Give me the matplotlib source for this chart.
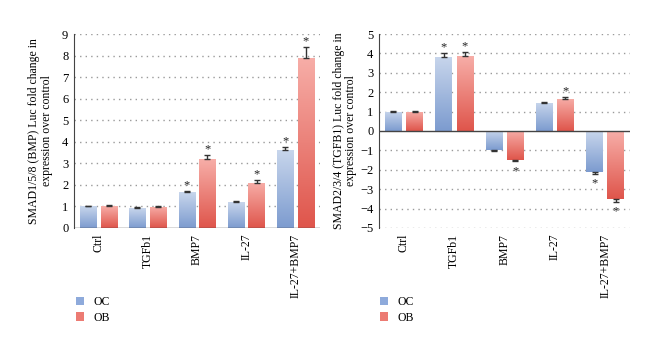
import numpy as np
import matplotlib.pyplot as plt
from matplotlib.patches import Patch
from matplotlib.colors import LinearSegmentedColormap

plt.rcParams['font.family'] = ['Liberation Serif', 'DejaVu Serif']

groups = ['Ctrl', 'TGFb1', 'BMP7', 'IL-27', 'IL-27+BMP7']

# SMAD1/5/8 (BMP) reporter
bmp_oc = [1.0, 0.92, 1.65, 1.2, 3.6]
bmp_ob = [1.0, 0.98, 3.2, 2.1, 7.9]
bmp_oc_err = [0.04, 0.04, 0.07, 0.05, 0.18]
bmp_ob_err = [0.05, 0.05, 0.2, 0.12, 0.5]
bmp_oc_sig = [False, False, True, False, True]
bmp_ob_sig = [False, False, True, True, True]

# SMAD2/3/4 (TGFB1) reporter
tgf_oc = [1.0, 3.82, -1.0, 1.45, -2.1]
tgf_ob = [1.0, 3.85, -1.5, 1.65, -3.5]
tgf_oc_err = [0.04, 0.2, 0.04, 0.05, 0.1]
tgf_ob_err = [0.04, 0.22, 0.06, 0.1, 0.15]
tgf_oc_sig = [False, True, False, False, True]
tgf_ob_sig = [False, True, True, True, True]

oc_cmap = LinearSegmentedColormap.from_list('oc', ['#7c9bcf', '#c8d6ec'])
ob_cmap = LinearSegmentedColormap.from_list('ob', ['#df554b', '#f7aea8'])
grad = np.linspace(0, 1, 256).reshape(-1, 1)


def gradient_bars(ax, xs, vals, errs, sig, cmap, width):
    bars = ax.bar(xs, vals, width, color='none', edgecolor='none', zorder=2)
    for b, v, e, s in zip(bars, vals, errs, sig):
        x0 = b.get_x()
        x1 = x0 + b.get_width()
        top, bot = max(v, 0), min(v, 0)
        im = ax.imshow(grad, cmap=cmap, origin='lower', aspect='auto',
                       extent=(x0, x1, bot, top), zorder=2)
        im.set_clip_path(b)
        xc = x0 + b.get_width() / 2
        up = v >= 0
        yerr = [[0], [e]] if up else [[e], [0]]
        ax.errorbar(xc, v, yerr=yerr, fmt='none', ecolor='#333333',
                    elinewidth=1, capsize=2.5, capthick=1, zorder=3)
        if s:
            # the '*' glyph sits high in its box, so push further when below
            off = 4 if up else -7
            ax.annotate('*', (xc, v + (e if up else -e)), xytext=(0, off),
                        textcoords='offset points', ha='center', va='center',
                        fontsize=9, color='#222222')


def draw_panel(ax, oc, ob, oc_err, ob_err, oc_sig, ob_sig, ylim, label):
    x = np.arange(len(groups))
    w = 0.33
    gradient_bars(ax, x - 0.21, oc, oc_err, oc_sig, oc_cmap, w)
    gradient_bars(ax, x + 0.21, ob, ob_err, ob_sig, ob_cmap, w)
    ax.set_xlim(-0.5, len(groups) - 0.5)
    ax.set_ylim(*ylim)
    ax.set_yticks(range(ylim[0], ylim[1] + 1))
    for yv in range(ylim[0], ylim[1] + 1):
        if yv != 0:
            ax.axhline(yv, color='#9a9a9a', lw=1, ls=(0, (1, 3)), zorder=1)
    ax.axhline(0, color='#444444', lw=1, zorder=4)
    for sp in ['top', 'right', 'bottom']:
        ax.spines[sp].set_visible(False)
    ax.spines['left'].set_color('#444444')
    ax.set_xticks(x)
    ax.set_xticklabels(groups, rotation=90, va='top', fontsize=8.5)
    ax.tick_params(axis='x', length=0, pad=4)
    ax.tick_params(axis='y', length=0, pad=4, labelsize=9)
    ax.set_ylabel(label, fontsize=8.5, linespacing=1.1)


fig = plt.figure(figsize=(6.6, 3.47), dpi=100)
ax1 = fig.add_axes([0.112, 0.343, 0.373, 0.559])
ax2 = fig.add_axes([0.574, 0.343, 0.381, 0.559])

draw_panel(ax1, bmp_oc, bmp_ob, bmp_oc_err, bmp_ob_err, bmp_oc_sig, bmp_ob_sig,
           (0, 9), 'SMAD1/5/8 (BMP) Luc fold change in\nexpression over control')
draw_panel(ax2, tgf_oc, tgf_ob, tgf_oc_err, tgf_ob_err, tgf_oc_sig, tgf_ob_sig,
           (-5, 5), 'SMAD2/3/4 (TGFB1) Luc fold change in\nexpression over control')
ax1.yaxis.set_label_coords(-0.085, 0.5)
ax2.yaxis.set_label_coords(-0.085, 0.5)

handles = [Patch(facecolor='#8eaadb', label='OC'), Patch(facecolor='#ec7b73', label='OB')]
for xl in [0.108, 0.568]:
    fig.legend(handles=handles, loc='upper left', bbox_to_anchor=(xl, 0.16),
               frameon=False, fontsize=8.5, handlelength=0.7, handleheight=0.7,
               handletextpad=0.8, labelspacing=0.3, borderaxespad=0)

fig.savefig('out.png', dpi=100)
